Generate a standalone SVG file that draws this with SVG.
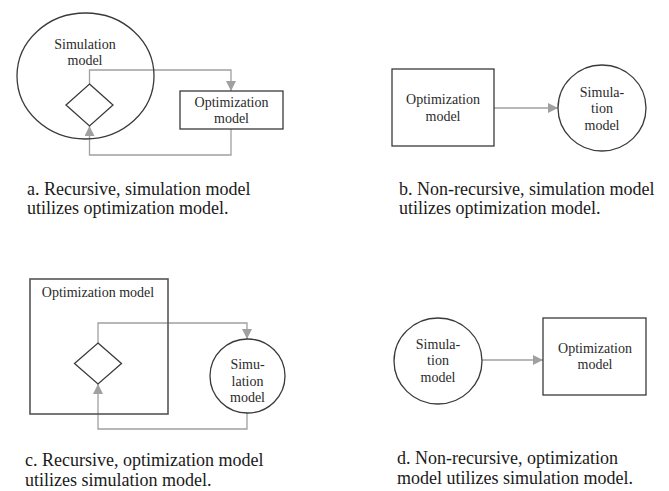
<svg xmlns="http://www.w3.org/2000/svg" width="669" height="491" viewBox="0 0 669 491">
<style>
.shape{fill:none;stroke:#3a3a3a;stroke-width:1.3}
.conn{fill:none;stroke:#a0a0a0;stroke-width:1.3}
text{font-family:'Liberation Serif','DejaVu Serif',serif}
.lbl{font-size:14px;fill:#2a2a2a;text-anchor:middle}
.cap{font-size:18px;fill:#1a1a1a}
</style>
<defs>
<marker id="arr" viewBox="0 0 10 10" refX="10" refY="5" markerWidth="10" markerHeight="10" markerUnits="userSpaceOnUse" orient="auto">
<path d="M0,0 L10,5 L0,10 z" fill="#a0a0a0"/>
</marker>
</defs>
<rect width="669" height="491" fill="#fff"/>
<g id="connectors">
<polyline class="conn" points="89.5,84 89.5,70 231,70 231,91" marker-end="url(#arr)"/>
<polyline class="conn" points="231,129 231,155 89.5,155 89.5,126" marker-end="url(#arr)"/>
<line class="conn" x1="494" y1="108" x2="558" y2="108" marker-end="url(#arr)"/>
<polyline class="conn" points="98,343 98,323 247,323 247,339" marker-end="url(#arr)"/>
<polyline class="conn" points="247,413 247,429 98,429 98,384" marker-end="url(#arr)"/>
<line class="conn" x1="482" y1="360" x2="543" y2="360" marker-end="url(#arr)"/>
</g>
<g id="a-sim">
<ellipse class="shape" cx="85.5" cy="76" rx="68.5" ry="63"/>
<text class="lbl" x="85" y="49">Simulation</text>
<text class="lbl" x="85" y="65">model</text>
</g>
<g id="a-diamond">
<polygon class="shape" points="89.5,84 113,105 89.5,126 66,105"/>
</g>
<g id="a-opt">
<rect class="shape" x="180" y="91" width="103" height="38"/>
<text class="lbl" x="231.5" y="107">Optimization</text>
<text class="lbl" x="231.5" y="123">model</text>
</g>
<g id="a-caption">
<text class="cap" x="27" y="194.5">a. Recursive, simulation model</text>
<text class="cap" x="27" y="214">utilizes optimization model.</text>
</g>
<g id="b-opt">
<rect class="shape" x="392" y="69" width="102" height="77"/>
<text class="lbl" x="443" y="104">Optimization</text>
<text class="lbl" x="443" y="121">model</text>
</g>
<g id="b-sim">
<ellipse class="shape" cx="602" cy="108" rx="44" ry="43"/>
<text class="lbl" x="602" y="97">Simula-</text>
<text class="lbl" x="602" y="113">tion</text>
<text class="lbl" x="602" y="130">model</text>
</g>
<g id="b-caption">
<text class="cap" x="399" y="194.5">b. Non-recursive, simulation model</text>
<text class="cap" x="399" y="214">utilizes optimization model.</text>
</g>
<g id="c-opt">
<rect class="shape" x="30" y="279" width="138" height="135" style="stroke:#555;stroke-width:1.6"/>
<text class="lbl" x="98" y="297">Optimization model</text>
</g>
<g id="c-diamond">
<polygon class="shape" points="98,343 121.5,363.5 98,384 74.5,363.5"/>
</g>
<g id="c-sim">
<ellipse class="shape" cx="247.5" cy="376" rx="37.5" ry="37"/>
<text class="lbl" x="247.5" y="369">Simu-</text>
<text class="lbl" x="247.5" y="386">lation</text>
<text class="lbl" x="247.5" y="402">model</text>
</g>
<g id="c-caption">
<text class="cap" x="25" y="466">c. Recursive, optimization model</text>
<text class="cap" x="25" y="486">utilizes simulation model.</text>
</g>
<g id="d-sim">
<ellipse class="shape" cx="438" cy="361" rx="44" ry="43"/>
<text class="lbl" x="438" y="349">Simula-</text>
<text class="lbl" x="438" y="365">tion</text>
<text class="lbl" x="438" y="382">model</text>
</g>
<g id="d-opt">
<rect class="shape" x="543" y="318" width="103" height="77"/>
<text class="lbl" x="595" y="353">Optimization</text>
<text class="lbl" x="595" y="369">model</text>
</g>
<g id="d-caption">
<text class="cap" x="397" y="464">d. Non-recursive, optimization</text>
<text class="cap" x="397" y="483.5">model utilizes simulation model.</text>
</g>
</svg>
